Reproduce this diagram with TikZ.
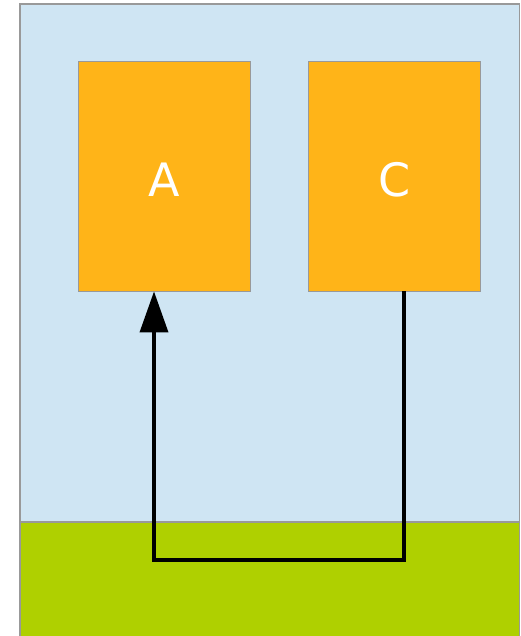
\documentclass[tikz,border=0pt]{standalone}
\usepackage{fontspec}
\setmainfont{DejaVu Sans}
\usetikzlibrary{arrows.meta}
\definecolor{skyblue}{HTML}{CFE5F3}
\definecolor{grass}{HTML}{AFD000}
\definecolor{boxorange}{HTML}{FFB418}
\definecolor{edgegray}{HTML}{999999}
\tikzset{
  box/.style={draw=edgegray, line width=0.8pt, fill=boxorange, minimum width=172pt, minimum height=230pt, inner sep=0pt, text=white, font=\fontsize{46}{50}\selectfont},
  conn/.style={line width=3.6pt, draw=black, line join=miter}
}
\begin{document}
\begin{tikzpicture}[x=1pt,y=-1pt]
\useasboundingbox (0,0) rectangle (520,636);
\fill[skyblue] (20,4) rectangle (519.5,522);
\fill[grass] (20,522) rectangle (519.5,637);
\draw[edgegray, line width=1.2pt] (20,637) -- (20,4) -- (519.5,4) -- (519.5,637);
\draw[edgegray, line width=1.2pt] (20,522) -- (519.5,522);
\node[box] (A) at (164,176) {};
\node[box] (C) at (394.5,176) {};
\node[text=white, font=\fontsize{46}{50}\selectfont] (la) at (164,180) {A};
\node[text=white, font=\fontsize{46}{50}\selectfont] (lc) at (394.5,180) {C};
\coordinate (c1) at (404,560);
\coordinate (c2) at (154,560);
\draw[conn, -{Triangle[length=41pt,width=28pt]}] (C.south -| c1) -- (c1) -- (c2) -- (A.south -| c2);
\end{tikzpicture}
\end{document}
